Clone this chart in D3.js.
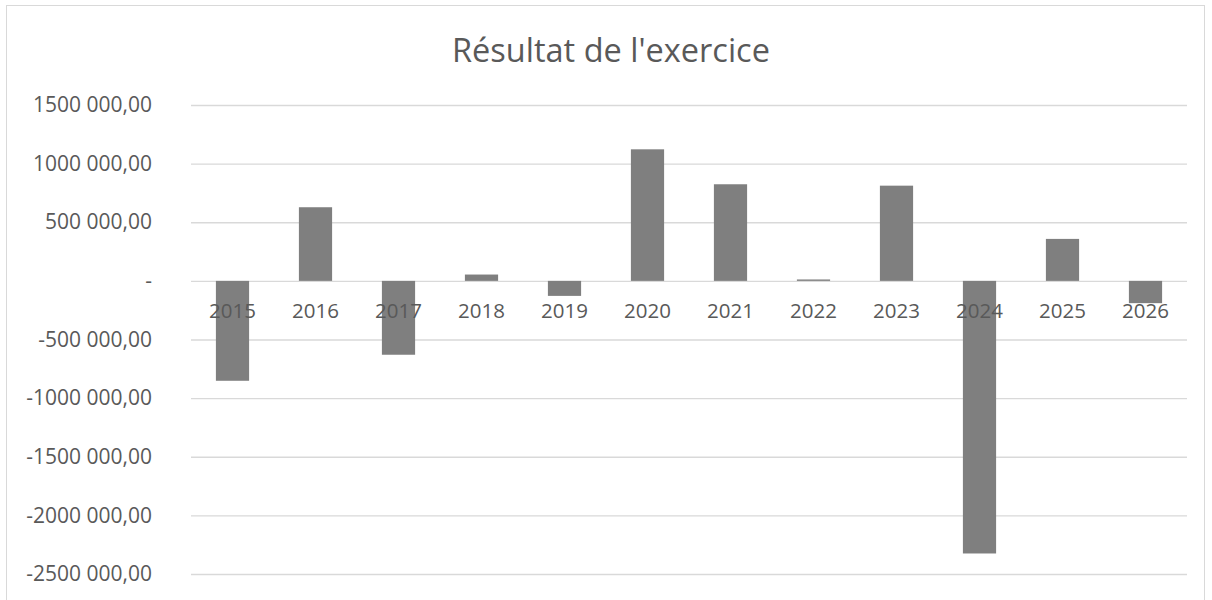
<!DOCTYPE html>
<html>
<head>
<meta charset="utf-8">
<script src="https://cdn.jsdelivr.net/npm/d3@7"></script>
<style>
  body { margin: 0; background: #fff; }
  text { font-family: "Open Sans", "Liberation Sans", sans-serif; fill: #595959; }
</style>
</head>
<body>
<div id="chart"></div>
<script>
// data
var years = ["2015", "2016", "2017", "2018", "2019", "2020", "2021", "2022", "2023", "2024", "2025", "2026"]
var results = [-852000, 628000, -630000, 54000, -128000, 1122000, 824000, 12000, 812000, -2325000, 358000, -190000]
var yTicks = [1500000, 1000000, 500000, 0, -500000, -1000000, -1500000, -2000000, -2500000]

var svgSize = { width: 1212, height: 600 }
var margin = { top: 105, bottom: 26, left: 191, right: 25 }

var chartSize = {
    width: svgSize.width - margin.left - margin.right,
    height: svgSize.height - margin.top - margin.bottom
}

var svg = d3.select("#chart").append("svg")
            .attr("width", svgSize.width)
            .attr("height", svgSize.height)

// chart border
svg.append("rect")
    .attr("x", 6.5).attr("y", 5.5)
    .attr("width", 1198).attr("height", 600)
    .attr("fill", "none")
    .attr("stroke", "#d9d9d9")

svg.append("text")
    .attr("x", 611).attr("y", 62)
    .attr("text-anchor", "middle")
    .attr("font-size", "32.5px")
    .text("Résultat de l'exercice")

var frame = svg.append("g")
               .attr("transform", `translate(${margin.left}, ${margin.top})`)

var xScale = d3.scaleBand()
               .domain(years)
               .range([0, 996])
               .paddingInner(0.6)
               .paddingOuter(0.3)

var yScale = d3.scaleLinear()
               .domain([-2500000, 1500000])
               .range([469, 0])

// French number format: "1500 000,00", zero shown as "-"
function fmt(v) {
    if (v === 0) return "-"
    var sign = v < 0 ? "-" : ""
    var a = Math.abs(v)
    var th = Math.floor(a / 1000)
    var rest = String(a % 1000).padStart(3, "0")
    return sign + th + " " + rest + ",00"
}

var leftAxis = d3.axisLeft(yScale)
                 .tickValues(yTicks)
                 .tickSize(-996)
                 .tickPadding(39)
                 .tickFormat(fmt)

var yAxis = frame.append("g").call(leftAxis)
yAxis.select(".domain").remove()
yAxis.selectAll("line").attr("stroke", "#d9d9d9").attr("stroke-width", 1.3)
yAxis.selectAll("text")
     .attr("font-size", "21px")
     .style("font-family", "\"Open Sans\", \"Liberation Sans\", sans-serif")
     .attr("fill", "#595959")

frame.selectAll("rect.bar").data(results)
     .enter().append("rect")
     .attr("class", "bar")
     .attr("x", (d, i) => xScale(years[i]))
     .attr("width", xScale.bandwidth())
     .attr("y", d => yScale(Math.max(0, d)))
     .attr("height", d => Math.abs(yScale(d) - yScale(0)))
     .attr("fill", "#7f7f7f")

// category labels just under the zero line
frame.selectAll("text.cat").data(years)
     .enter().append("text")
     .attr("class", "cat")
     .attr("x", d => xScale(d) + xScale.bandwidth() / 2)
     .attr("y", yScale(0) + 37)
     .attr("text-anchor", "middle")
     .attr("font-size", "20.5px")
     .text(d => d)
</script>
</body>
</html>
